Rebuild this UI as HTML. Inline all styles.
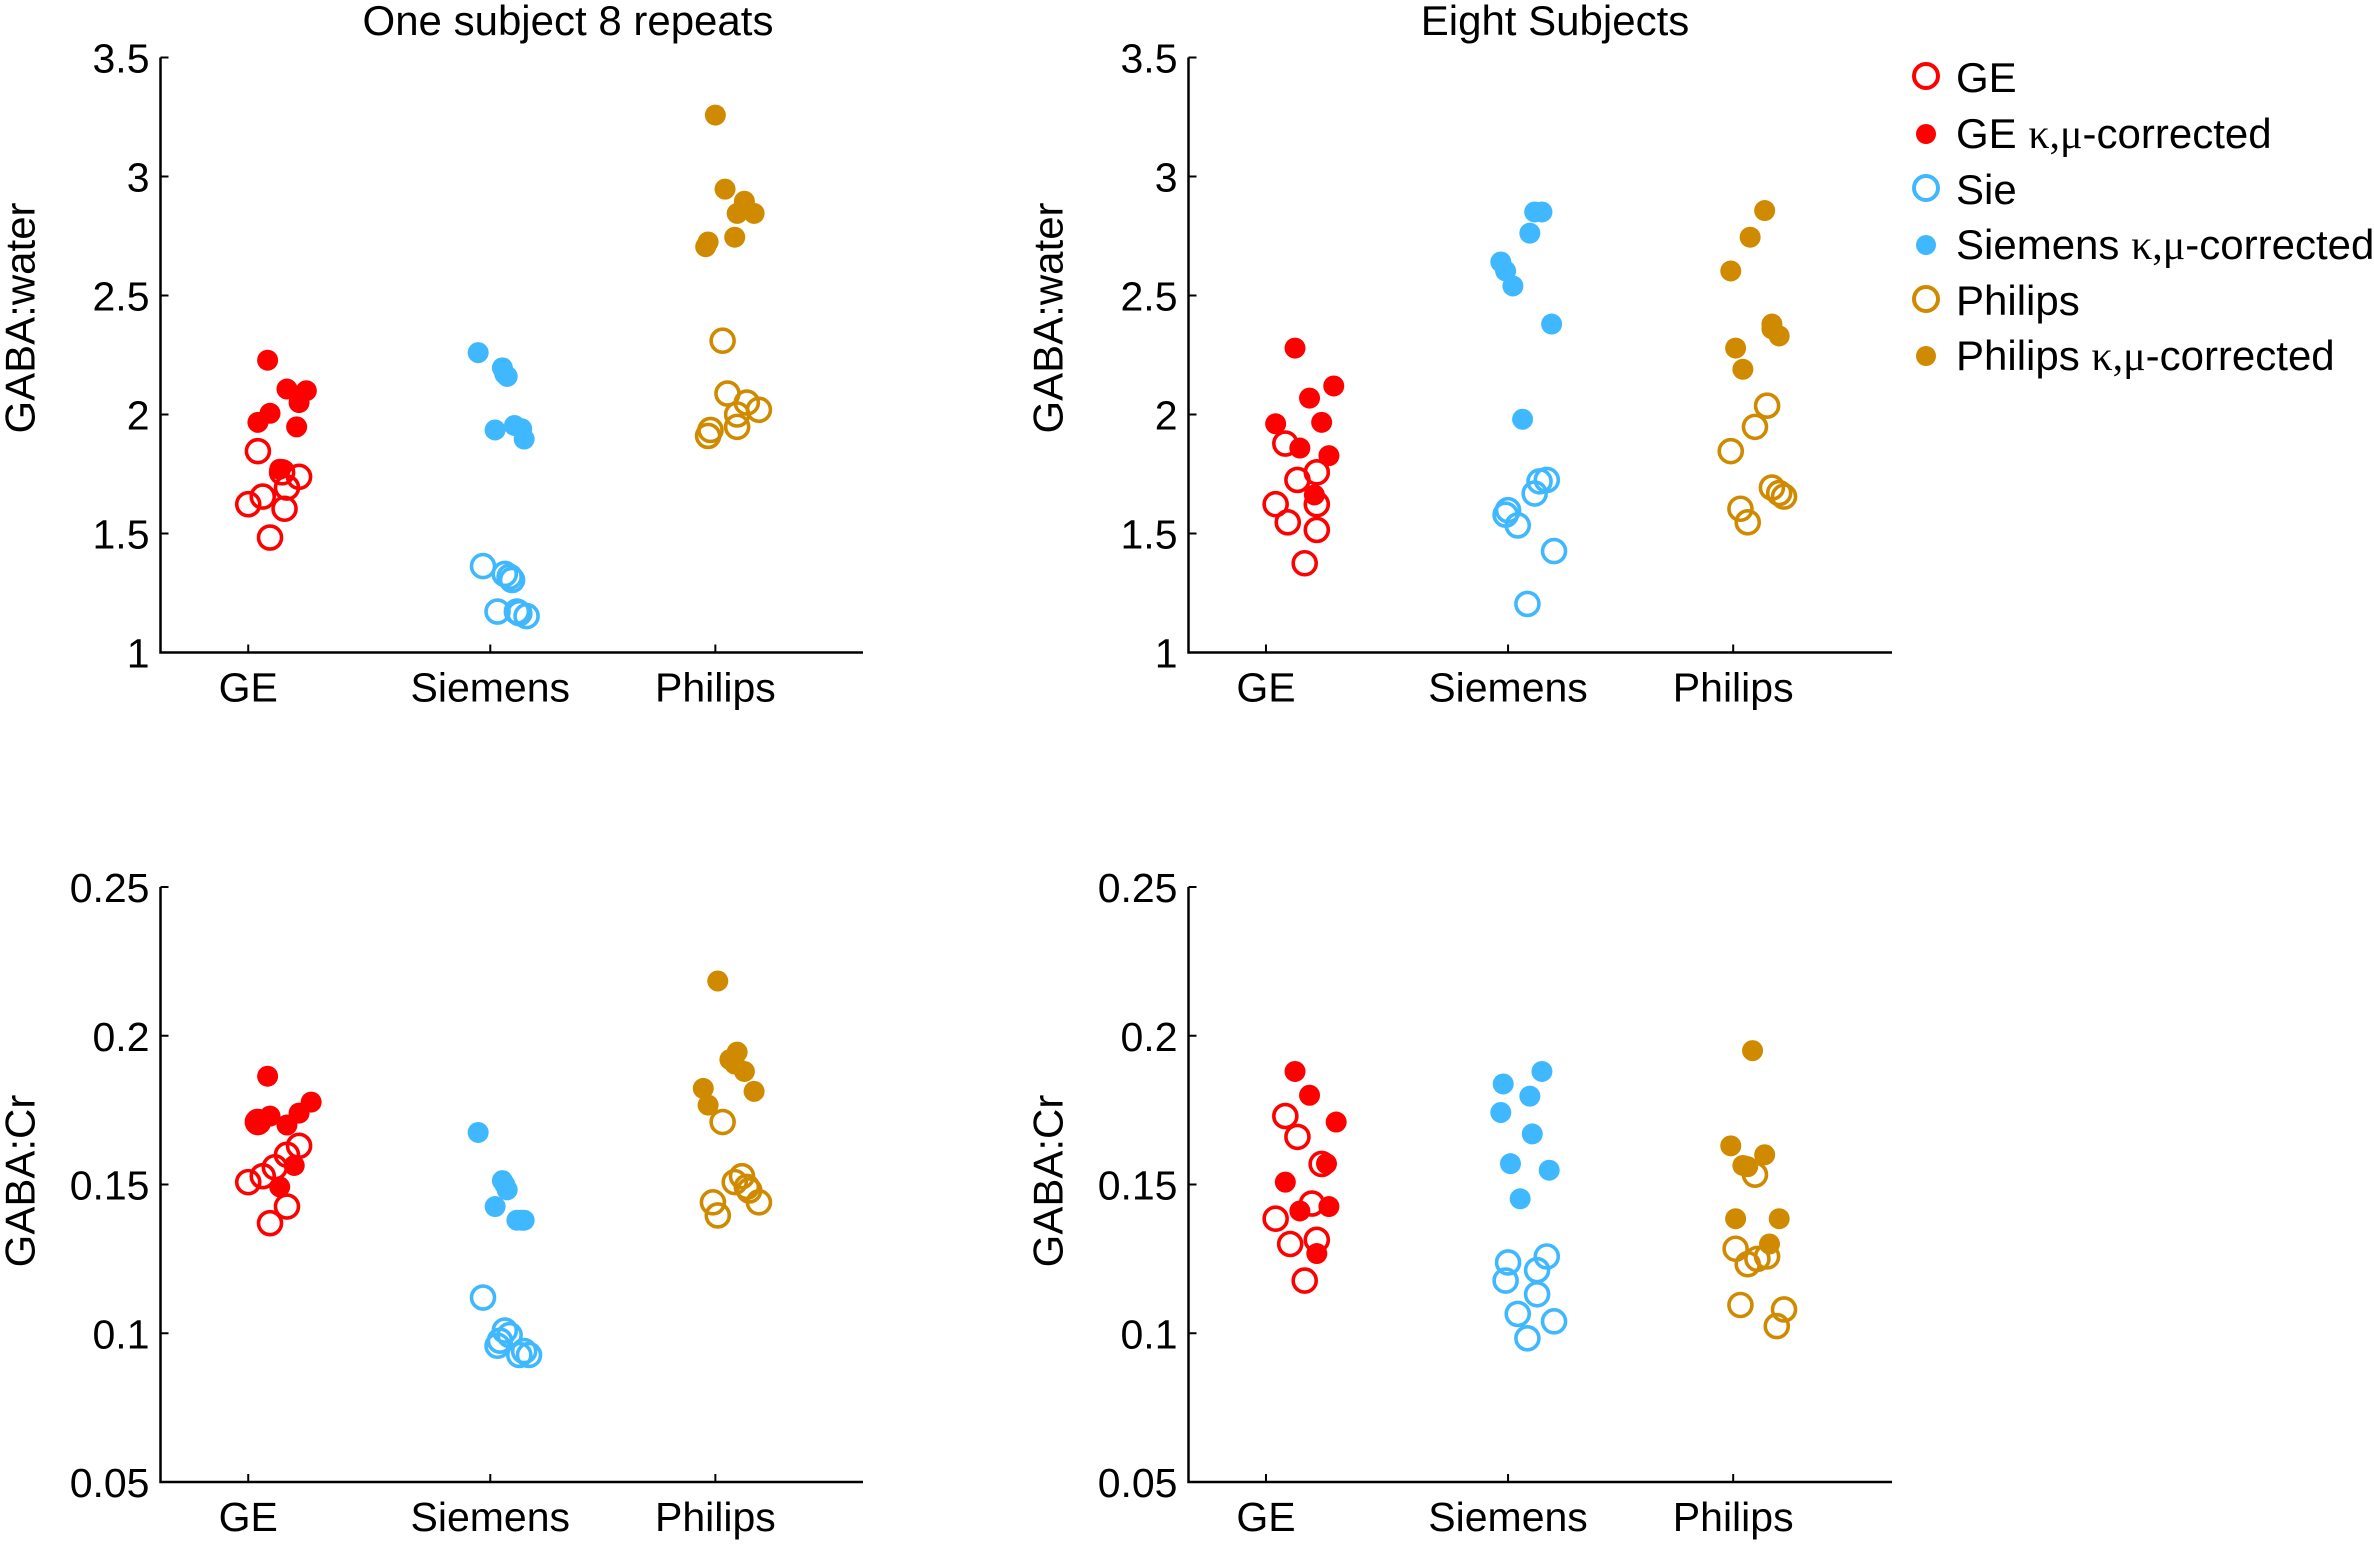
<!DOCTYPE html>
<html><head><meta charset="utf-8"><style>
html,body{margin:0;padding:0;background:#fff;}
svg{display:block;font-family:"Liberation Sans",Arial,sans-serif;}
</style></head><body>
<svg id="fig" width="2374" height="1555" viewBox="0 0 2374 1555" xmlns="http://www.w3.org/2000/svg"></svg>
<script>
// ---- data ----
const categories = ["GE", "Siemens", "Philips"];
const categoryX = [1, 2, 2.93];
const waterTicks = [1, 1.5, 2, 2.5, 3, 3.5];
const waterTickLabels = ["1", "1.5", "2", "2.5", "3", "3.5"];
const crTicks = [0.05, 0.1, 0.15, 0.2, 0.25];
const crTickLabels = ["0.05", "0.1", "0.15", "0.2", "0.25"];

// top-left: one subject 8 repeats, GABA:water
const tlGeOpen = [1.846,1.623,1.655,1.757,1.738,1.693,1.604,1.483];
const tlGeOpenJit = [.04,0,.06,.14,.21,.16,.15,.09];
const tlGeFill = [2.228,1.967,2.005,2.107,2.10,2.05,1.948,1.77];
const tlGeFillJit = [.08,.04,.09,.16,.24,.21,.2,.13];
const tlSieOpen = [1.363,1.33,1.305,1.172,1.172,1.153,1.165,1.318];
const tlSieOpenJit = [-.03,.06,.09,.03,.11,.15,.12,.08];
const tlSieFill = [2.26,2.196,2.16,1.935,1.954,1.897,2.17,1.94];
const tlSieFillJit = [-.05,.05,.07,.02,.1,.14,.06,.13];
const tlPhiOpen = [2.31,2.088,2.05,2.02,1.948,1.935,1.91,2.0];
const tlPhiOpenJit = [.03,.05,.13,.18,.09,-.02,-.03,.09];
const tlPhiFill = [3.258,2.947,2.896,2.845,2.845,2.745,2.725,2.705];
const tlPhiFillJit = [0,.04,.12,.16,.09,.08,-.03,-.04];

// top-right: eight subjects, GABA:water
const trGeOpen = [1.878,1.623,1.547,1.725,1.757,1.623,1.515,1.375];
const trGeOpenJit = [.08,.04,.09,.13,.21,.21,.21,.16];
const trGeFill = [2.279,1.961,2.069,2.12,1.967,1.859,1.827,1.662];
const trGeFillJit = [.12,.04,.18,.28,.23,.14,.26,.2];
const trSieOpen = [1.579,1.598,1.534,1.668,1.719,1.725,1.426,1.204];
const trSieOpenJit = [-.01,0,.04,.11,.13,.16,.19,.08];
const trSieFill = [2.641,2.603,2.54,2.762,2.851,2.851,2.38,1.98];
const trSieFillJit = [-.03,-.01,.02,.09,.11,.14,.18,.06];
const trPhiOpen = [1.846,1.948,2.037,1.604,1.547,1.693,1.655,1.67];
const trPhiOpenJit = [-.01,.09,.14,.03,.06,.16,.21,.19];
const trPhiFill = [2.603,2.745,2.857,2.279,2.19,2.38,2.33,2.36];
const trPhiFillJit = [-.01,.07,.13,.01,.04,.16,.19,.16];

// bottom-left: one subject, GABA:Cr
const blGeOpen = [.171,.1508,.1528,.1558,.160,.163,.1426,.137];
const blGeOpenJit = [.04,0,.06,.11,.16,.21,.16,.09];
const blGeFill = [.1864,.171,.173,.170,.174,.1777,.1564,.1492];
const blGeFillJit = [.08,.04,.09,.16,.21,.26,.19,.13];
const blSieOpen = [.112,.1009,.0994,.0958,.0927,.0927,.0975,.094];
const blSieOpenJit = [-.03,.06,.08,.03,.12,.16,.04,.14];
const blSieFill = [.1675,.1513,.1482,.1426,.138,.138,.150,.138];
const blSieFillJit = [-.05,.05,.07,.02,.11,.14,.06,.13];
const blPhiOpen = [.171,.144,.1396,.1508,.1528,.1492,.148,.144];
const blPhiOpenJit = [.03,-.01,.01,.08,.11,.13,.14,.18];
const blPhiFill = [.2184,.192,.1945,.1905,.188,.1813,.1823,.1767];
const blPhiFillJit = [.01,.06,.09,.08,.12,.16,-.05,-.03];

// bottom-right: eight subjects, GABA:Cr
const brGeOpen = [.173,.166,.1385,.130,.1436,.1569,.1314,.1177];
const brGeOpenJit = [.08,.13,.04,.1,.19,.23,.21,.16];
const brGeFill = [.188,.180,.171,.1508,.1411,.1426,.157,.1268];
const brGeFillJit = [.12,.18,.29,.08,.14,.26,.25,.21];
const brSieOpen = [.1238,.1177,.1212,.1258,.1131,.1065,.104,.0983];
const brSieOpenJit = [0,-.01,.12,.16,.12,.04,.19,.08];
const brSieFill = [.1838,.188,.1797,.1742,.167,.157,.1548,.1452];
const brSieFillJit = [-.02,.14,.09,-.03,.1,.01,.17,.05];
const brPhiOpen = [.1284,.1533,.1232,.1258,.1095,.108,.1024,.125];
const brPhiOpenJit = [.01,.09,.06,.14,.03,.21,.18,.1];
const brPhiFill = [.195,.163,.1564,.160,.1385,.1385,.130,.156];
const brPhiFillJit = [.08,-.01,.04,.13,.01,.19,.15,.06];

const colors = ["#ff0000", "#40b8ff", "#d08a00"];
const legendLabels = ["GE", "GE κ,μ-corrected", "Sie", "Siemens κ,μ-corrected", "Philips", "Philips κ,μ-corrected"];

// ---- drawing ----
const NS = "http://www.w3.org/2000/svg";
const svg = document.getElementById("fig");
function el(tag, attrs, parent) {
  const e = document.createElementNS(NS, tag);
  for (const k in attrs) e.setAttribute(k, attrs[k]);
  (parent || svg).appendChild(e);
  return e;
}
const leftXDomain = [0.6375, 3.54];
const rightXDomain = [0.68, 3.586];

function panel(key, box, xDomain, yDomain, ticks, tickLabels, ylabel, ylabelY, title, series) {
  const g = el("g", {});
  
  
  const xs = v => box.x0 + (v - xDomain[0]) / (xDomain[1] - xDomain[0]) * (box.x1 - box.x0);
  const ys = v => box.yb - (v - yDomain[0]) / (yDomain[1] - yDomain[0]) * (box.yb - box.yt);
  const axes = el("path", {d: `M${box.x0},${box.yt} V${box.yb} H${box.x1}`, fill: "none", stroke: "#000", "stroke-width": 2.5}, g);
  
  
  ticks.forEach((t, i) => {
    const y = ys(t);
    const tk = el("line", {x1: box.x0, x2: box.x0 + 8, y1: y, y2: y, stroke: "#000", "stroke-width": 2}, g);
    
    
    const tl = el("text", {x: box.x0 - 11, y: y + 15, "text-anchor": "end", "font-size": 41}, g);
    tl.textContent = tickLabels[i];
    
    
  });
  categories.forEach((c, i) => {
    const x = xs(categoryX[i]);
    const tk = el("line", {x1: x, x2: x, y1: box.yb, y2: box.yb - 8, stroke: "#000", "stroke-width": 2}, g);
    
    
    const tl = el("text", {x: x, y: box.yb + 49, "text-anchor": "middle", "font-size": 41}, g);
    tl.textContent = c;
    
    
  });
  const yl = el("text", {transform: `translate(${box.x0 - 126},${ylabelY}) rotate(-90)`, "text-anchor": "middle", "font-size": 42}, g);
  yl.textContent = ylabel;
  
  
  if (title) {
    const tt = el("text", {x: title.x, y: 35, "text-anchor": "middle", "font-size": 42}, g);
    tt.textContent = title.text;
    
    
  }
  series.forEach(s => {
    s.vals.forEach((v, i) => {
      const cx = xs(categoryX[s.cat] + s.jit[i]);
      const cy = ys(v);
      let c;
      if (s.filled) c = el("circle", {cx: cx, cy: cy, r: 10.5, fill: colors[s.cat]}, g);
      else c = el("circle", {cx: cx, cy: cy, r: 11.5, fill: "none", stroke: colors[s.cat], "stroke-width": 3.6}, g);
      
      
    });
  });
}

function mk(pre, a) {
  return [
    {name: pre + "-ge", cat: 0, filled: false, vals: a[0], jit: a[1]},
    {name: pre + "-ge-corrected", cat: 0, filled: true, vals: a[2], jit: a[3]},
    {name: pre + "-siemens", cat: 1, filled: false, vals: a[4], jit: a[5]},
    {name: pre + "-siemens-corrected", cat: 1, filled: true, vals: a[6], jit: a[7]},
    {name: pre + "-philips", cat: 2, filled: false, vals: a[8], jit: a[9]},
    {name: pre + "-philips-corrected", cat: 2, filled: true, vals: a[10], jit: a[11]},
  ];
}

panel("top-left", {x0: 160.5, x1: 863, yt: 57.5, yb: 652.5}, leftXDomain, [1, 3.5], waterTicks, waterTickLabels, "GABA:water", 318,
  {x: 568, text: "One subject 8 repeats"},
  mk("tl", [tlGeOpen, tlGeOpenJit, tlGeFill, tlGeFillJit, tlSieOpen, tlSieOpenJit, tlSieFill, tlSieFillJit, tlPhiOpen, tlPhiOpenJit, tlPhiFill, tlPhiFillJit]));
panel("top-right", {x0: 1188.5, x1: 1892, yt: 57.5, yb: 652.5}, rightXDomain, [1, 3.5], waterTicks, waterTickLabels, "GABA:water", 318,
  {x: 1555, text: "Eight Subjects"},
  mk("tr", [trGeOpen, trGeOpenJit, trGeFill, trGeFillJit, trSieOpen, trSieOpenJit, trSieFill, trSieFillJit, trPhiOpen, trPhiOpenJit, trPhiFill, trPhiFillJit]));
panel("bottom-left", {x0: 160.5, x1: 863, yt: 887, yb: 1482}, leftXDomain, [0.05, 0.25], crTicks, crTickLabels, "GABA:Cr", 1181, null,
  mk("bl", [blGeOpen, blGeOpenJit, blGeFill, blGeFillJit, blSieOpen, blSieOpenJit, blSieFill, blSieFillJit, blPhiOpen, blPhiOpenJit, blPhiFill, blPhiFillJit]));
panel("bottom-right", {x0: 1188.5, x1: 1892, yt: 887, yb: 1482}, rightXDomain, [0.05, 0.25], crTicks, crTickLabels, "GABA:Cr", 1181, null,
  mk("br", [brGeOpen, brGeOpenJit, brGeFill, brGeFillJit, brSieOpen, brSieOpenJit, brSieFill, brSieFillJit, brPhiOpen, brPhiOpenJit, brPhiFill, brPhiFillJit]));

// legend
const lg = el("g", {});


const legendRowY = [76, 132, 188, 243, 299, 354];
legendLabels.forEach((lab, i) => {
  const y = legendRowY[i];
  const cat = Math.floor(i / 2);
  const filled = i % 2 === 1;
  let m;
  if (filled) m = el("circle", {cx: 1926, cy: y + 2, r: 10, fill: colors[cat]}, lg);
  else m = el("circle", {cx: 1926, cy: y, r: 12, fill: "none", stroke: colors[cat], "stroke-width": 4}, lg);
  
  
  const t = el("text", {x: 1956, y: y + 16, "font-size": 42}, lg);
  const parts = lab.split("κ,μ");
  if (parts.length > 1) {
    const a = el("tspan", {}, t); a.textContent = parts[0];
    const b = el("tspan", {"font-family": "Liberation Serif, serif"}, t); b.textContent = "κ,μ";
    const c = el("tspan", {}, t); c.textContent = parts[1];
  } else t.textContent = lab;
  
  
});
</script>
</body></html>
